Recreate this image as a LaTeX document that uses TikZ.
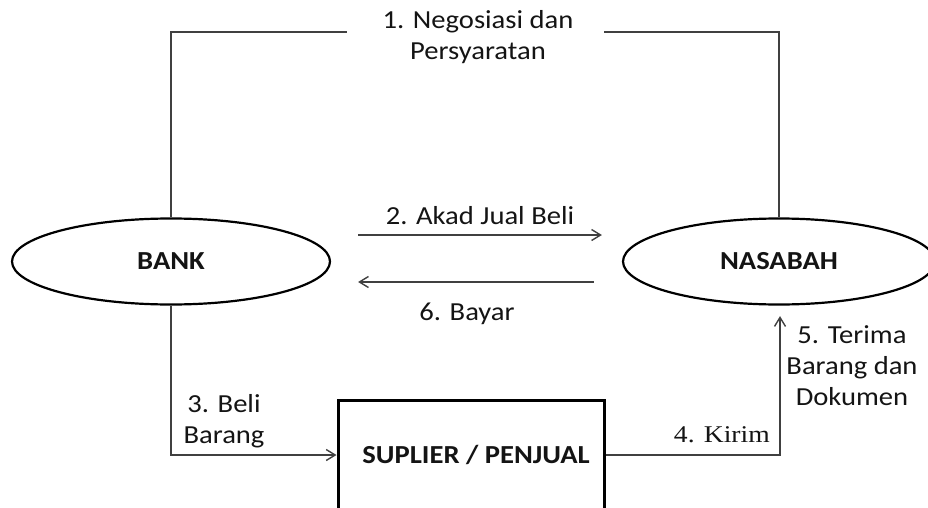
\documentclass[tikz,border=0pt]{standalone}
\usepackage{fontspec}
\setmainfont{Carlito}[FakeStretch=1.1]
\newfontfamily\kirimfont{Liberation Serif}[FakeStretch=1.15]
\usepackage{tikz}
\usetikzlibrary{
  shapes.geometric,
  arrows.meta,
  positioning,
  calc
}
\definecolor{FlowGray}{HTML}{404040}
\definecolor{InkBlack}{HTML}{141414}
\tikzset{
  % Party ellipse (bank, customer)
  party/.style={
    ellipse, draw=black, line width=2.2pt, fill=white,
    minimum width=#1, minimum height=86pt, inner sep=0pt,
    font=\fontsize{26}{31}\selectfont\bfseries, text=InkBlack
  },
  % Supplier box
  seller/.style={
    rectangle, draw=black, line width=3pt, fill=white,
    minimum width=266pt, minimum height=110pt, inner sep=0pt,
    font=\fontsize{26}{31}\selectfont\bfseries, text=InkBlack
  },
  % Plain flow line
  flow/.style={draw=FlowGray, line width=1.4pt},
  % Flow with open arrow
  arr/.style={flow, -{Straight Barb[length=9pt,width=11pt]}},
  % Step label
  lbl/.style={font=\fontsize{26}{31}\selectfont, text=InkBlack, align=center, inner sep=0pt}
}

\begin{document}
\begin{tikzpicture}[x=1pt,y=-1pt]
  \clip (0,0) rectangle (928,508);
  \node[party=318pt] (bank)    at (171,261.5) {BANK};
  \node[party=312pt] (nasabah) at (779,261.5) {NASABAH};
  \node[seller]      (sup)     at (471,455)   {\hspace*{10pt}SUPLIER / PENJUAL};

  % 1. negotiation over the top
  \node[lbl] (nego) at (478,37) {1. Negosiasi dan\\Persyaratan};
  \coordinate (negoL) at (347,32);
  \coordinate (negoR) at (604,32);
  \draw[flow] (bank.north) |- (negoL);
  \draw[flow] (negoR) -| (nasabah.north);

  % 2. contract and 6. payment
  \draw[arr, shorten <=27pt, shorten >=20pt]
    ([yshift=26.5pt]bank.east) -- ([yshift=26.5pt]nasabah.west)
    node[lbl, midway, above=10pt, xshift=3.5pt] {2. Akad Jual Beli};
  \draw[arr, shorten <=28pt, shorten >=27pt]
    ([yshift=-20.5pt]nasabah.west) -- ([yshift=-20.5pt]bank.east)
    node[lbl, midway, below=20pt, xshift=-9.5pt] {6. Bayar};

  % 3. purchase from the supplier
  \draw[arr] (bank.south) |- (sup.west);
  \node[lbl] (beli) at (224,421) {3. Beli\\Barang};

  % 4. delivery, 5. receipt
  \coordinate (terimaTip) at ($(nasabah.south)+(1,10.5)$);
  \draw[arr] (sup.east) -| (terimaTip);
  \node[lbl, font=\kirimfont\fontsize{24}{28}\selectfont, anchor=base east] (kirim) at (770,442) {4. Kirim};
  \node[lbl] (terima) at (852,366) {5. Terima\\Barang dan\\Dokumen};
\end{tikzpicture}
\end{document}
